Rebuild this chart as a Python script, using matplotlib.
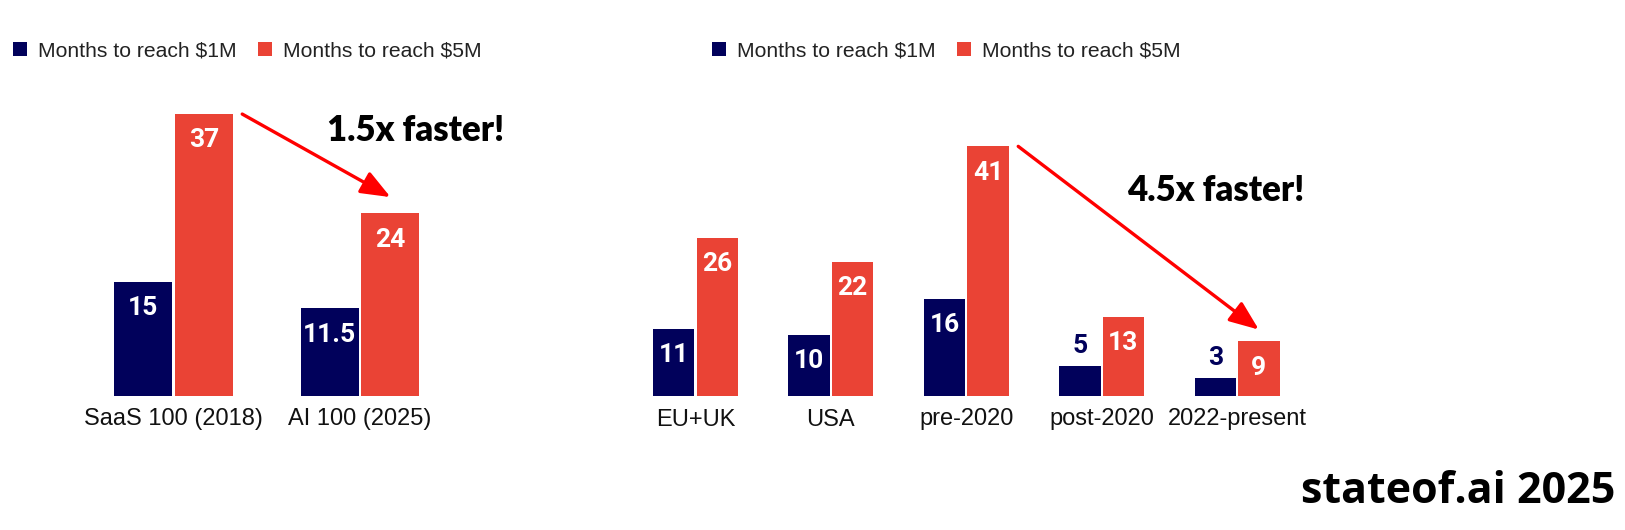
import matplotlib
matplotlib.use("Agg")
import matplotlib.pyplot as plt
from matplotlib.patches import Patch
import numpy as np

# ── данные ───────────────────────────────────────────────────────────────────
left_groups = ["SaaS 100 (2018)", "AI 100 (2025)"]
left_1m = [15, 11.5]
left_5m = [37, 24]

right_groups = ["EU+UK", "USA", "pre-2020", "post-2020", "2022-present"]
right_1m = [11, 10, 16, 5, 3]
right_5m = [26, 22, 41, 13, 9]

series_names = ["Months to reach $1M", "Months to reach $5M"]
left_note = "1.5x faster!"
right_note = "4.5x faster!"
watermark = "stateof.ai 2025"

NAVY = "#01015B"
RED = "#EA4335"
TXT = "#222222"
LABEL_FONT = "Liberation Sans"
VALUE_FONT = "Roboto"
NOTE_FONT = "Lato"

fig = plt.figure(figsize=(16.25, 5.3), dpi=100, facecolor="white")

# оси в координатах фигуры (пиксели / размер)
W, H = 1625.0, 530.0
ax_l = fig.add_axes([80.25 / W, 134 / H, 373 / W, 304.8 / H])
ax_r = fig.add_axes([627.8 / W, 134 / H, 677 / W, 274 / H])


def draw_group(ax, groups, v1, v5, width, gap, ymax):
    x = np.arange(len(groups))
    off = width / 2 + gap / 2
    b1 = ax.bar(x - off, v1, width, color=NAVY, linewidth=0)
    b5 = ax.bar(x + off, v5, width, color=RED, linewidth=0)
    for bars in (b1, b5):
        for bar in bars:
            v = bar.get_height()
            cx = bar.get_x() + bar.get_width() / 2
            if v < 8:
                ax.annotate(f"{v:g}", (cx, v), xytext=(0, 14),
                            textcoords="offset points", ha="center",
                            va="center", color=NAVY, fontsize=19,
                            fontweight="bold", family=VALUE_FONT)
            else:
                ax.annotate(f"{v:g}", (cx, v), xytext=(0, -19),
                            textcoords="offset points", ha="center",
                            va="center", color="white", fontsize=19,
                            fontweight="bold", family=VALUE_FONT)
    ax.set_xlim(-0.5, len(groups) - 0.5)
    ax.set_ylim(0, ymax)
    ax.set_xticks(x)
    ax.set_xticklabels(groups, fontsize=17, family=LABEL_FONT, color="#111")
    ax.tick_params(axis="x", length=0, pad=9)
    ax.set_yticks([])
    for s in ax.spines.values():
        s.set_visible(False)
    ax.set_facecolor("none")
    return x, off


def arrow(ax, x0, y0, x1, y1):
    ax.annotate("", xy=(x1, y1), xytext=(x0, y0), annotation_clip=False,
                arrowprops=dict(arrowstyle="-|>,head_length=0.4,head_width=0.16",
                                mutation_scale=45, color="#FF0000",
                                linewidth=2.4, shrinkA=0, shrinkB=0))


# ── левая панель ─────────────────────────────────────────────────────────────
xl, offl = draw_group(ax_l, left_groups, left_1m, left_5m, 0.311, 0.016, 40)
arrow(ax_l, xl[0] + offl + 0.155 + 0.05, left_5m[0],
      xl[1] + offl, left_5m[1] + 2.1)
ax_l.text(1.30, 34.8, left_note, ha="center", va="center", fontsize=25,
          fontweight="heavy", family=NOTE_FONT, color="black", clip_on=False)

# ── правая панель ────────────────────────────────────────────────────────────
xr, offr = draw_group(ax_r, right_groups, right_1m, right_5m, 0.306, 0.015, 45)
arrow(ax_r, xr[2] + offr + 0.153 + 0.07, right_5m[2],
      xr[4] + offr, right_5m[4] + 1.9)
ax_r.text(3.84, 33.7, right_note, ha="center", va="center", fontsize=25,
          fontweight="heavy", family=NOTE_FONT, color="black", clip_on=False)

# ── легенды ──────────────────────────────────────────────────────────────────
handles = [Patch(facecolor=NAVY, edgecolor="none"),
           Patch(facecolor=RED, edgecolor="none")]
for x0 in (13 / W, 712 / W):
    fig.legend(handles, series_names, loc="center left",
               bbox_to_anchor=(x0, 1 - 51 / H), ncol=2, frameon=False,
               borderaxespad=0, borderpad=0, handlelength=0.68,
               handleheight=0.68, handletextpad=0.5, columnspacing=1.0,
               prop=dict(family=LABEL_FONT, size=15.2), labelcolor=TXT)

fig.text(1615 / W, 27 / H, watermark, ha="right", va="baseline",
         fontsize=31, fontweight="bold", family="Open Sans", color="black")

fig.savefig("out.png", dpi=100, facecolor="white")
